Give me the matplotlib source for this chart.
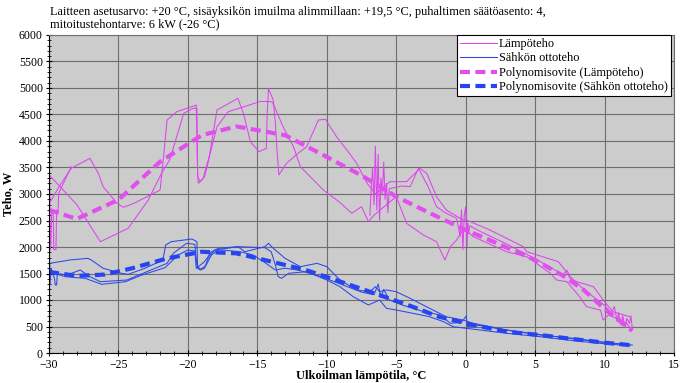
import matplotlib
matplotlib.use("Agg")
import matplotlib.pyplot as plt
from matplotlib.ticker import MultipleLocator

plt.rcParams['font.family'] = ['Liberation Serif', 'DejaVu Serif']

# ---------------- data ----------------
title_text = ("Laitteen asetusarvo: +20 °C, sisäyksikön imuilma alimmillaan: +19,5 °C, "
              "puhaltimen säätöasento: 4,\nmitoitustehontarve: 6 kW (-26 °C)")

heat1_x = [-29.9, -29.2, -28.4, -27.05, -26.45, -26.1, -25.1, -24.65, -23.9, -22.7, -22.0, -21.75, -21.5,
           -20.8, -19.7, -19.4, -19.3, -19.25, -18.8, -18.5, -17.9, -16.4, -16.0, -15.5, -14.9, -14.35,
           -14.3, -14.2, -13.85, -13.7, -13.6, -13.45, -12.9, -12.05, -11.45, -10.6, -10.1, -9.3, -8.55,
           -7.85, -7.1, -6.5, -5.8, -5.45, -4.25, -3.3, -2.8, -2.1, -1.4, -0.2, 0.05, 1.75, 4.15, 4.4,
           6.67, 7.15, 7.6, 9.2, 10.0, 10.6, 11.8]
heat1_y = [2855, 3170, 3485, 3673, 3390, 3138, 2824, 2748, 2824, 2980, 3075, 3704, 4396,
           4553, 4648, 4679, 3400, 3202, 3327, 3642, 4585, 4805, 4520, 3990, 3800, 3860,
           4460, 4990, 4770, 4330, 3890, 3360, 3579, 3770, 3893, 4396, 4409, 4081, 3830,
           3579, 3202, 3000, 3150, 3233, 3233, 3485, 3390, 2950, 2698, 2510, 2510, 2320, 2006, 1911,
           1723, 1566, 1377, 1251, 968, 779, 685]

heat2_x = [-29.95, -29.6, -28.0, -26.3, -24.3, -22.85, -21.9, -21.3, -20.3, -19.6, -19.35, -19.3, -19.1,
           -18.9, -18.4, -17.9, -17.1, -14.8, -14.1, -13.9, -13.15, -12.4, -11.9, -10.25, -9.05, -8.2,
           -7.5, -7.0, -6.6, -5.0, -4.25, -3.05, -2.1, -1.5, -1.1, -0.65, -0.2, 0.1, 0.55, 2.95, 4.4,
           6.1, 6.55, 7.3, 8.2, 8.7, 9.7, 9.9, 10.3, 11.6, 11.95]
heat2_y = [3350, 3250, 2800, 2100, 2353, 2887, 3390, 3650, 4523, 4617, 4617, 3327, 3233,
           3296, 3767, 4270, 4553, 4745, 4745, 4730, 4270, 3893, 3516, 3075, 2840, 2636,
           2761, 2478, 2600, 2950, 2447, 2226, 2100, 1755, 2006, 2132, 2320, 2300, 2195, 1911, 1817,
           1504, 1377, 1345, 1063, 874, 811, 623, 720, 560, 434]

heat3_x = [-29.95, -29.93, -29.88, -29.8, -29.7, -29.65, -29.5, -29.45, -29.35, -29.3, -28.4]
heat3_y = [3300, 1950, 2000, 2700, 2650, 1950, 1950, 2700, 2650, 3013, 3515]

heat4_x = [-6.9, -6.8, -6.7, -6.6, -6.5, -6.4, -6.3, -6.2, -6.1, -6.0, -5.9, -5.8, -5.7, -5.6, -5.5,
           -4.6, -4.0, -3.4, -2.7, -2.1, -1.4, -0.65, -0.4, -0.3, -0.2, -0.1, 0.0, 0.1, 0.15, 0.2, 0.3,
           1.0, 3.0, 5.0, 7.0, 7.3, 7.5, 8.5, 10.0, 10.5, 10.7, 10.9, 11.0, 11.2, 11.3, 11.5, 11.6,
           11.8, 11.9, 12.0]
heat4_y = [2600, 3100, 3500, 2800, 3900, 2700, 3750, 2500, 3300, 3000, 3600, 2900, 3200, 2650, 3100,
           3150, 3138, 3485, 3138, 2761, 2636, 2541, 2200, 2700, 1950, 2600, 2760, 2000, 2450, 2250, 2400,
           2300, 2050, 1780, 1480, 1560, 1450, 1200, 900, 750, 880, 600, 760, 520, 700, 480, 650,
           560, 700, 450]

elec1_x = [-29.93, -28.5, -27.2, -26.95, -26.1, -24.8, -24.3, -23.1, -21.8, -21.6, -21.2, -19.7, -19.35,
           -19.3, -19.1, -18.8, -18.5, -18.05, -16.4, -15.9, -14.45, -14.2, -13.85, -13.0, -11.9, -10.7,
           -10.0, -9.05, -7.85, -6.9, -6.5, -6.2, -5.7, -5.0, -4.0, -2.6, -1.4, -0.2, 0.55, 2.95, 5.35,
           7.75, 10.15, 11.8]
elec1_y = [1692, 1755, 1786, 1755, 1598, 1504, 1484, 1598, 1755, 2038, 2100, 2151, 2100,
           1598, 1566, 1598, 1817, 1943, 2006, 1911, 2006, 2070, 1975, 1786, 1629, 1692,
           1629, 1377, 1189, 1157, 1251, 1157, 1189, 1157, 1032, 843, 685, 623, 560, 434, 340,
           277, 195, 150]

elec2_x = [-29.93, -28.85, -27.4, -26.2, -24.5, -23.3, -21.65, -20.7, -20.0, -19.5, -19.4, -18.8, -18.3,
           -17.8, -16.4, -14.45, -14.0, -13.7, -13.5, -13.25, -12.75, -11.45, -10.0, -9.05, -8.1, -7.0,
           -6.2, -5.7, -5.0, -3.8, -2.6, -1.6, -0.9, 0.05, 2.95, 5.35, 7.75, 10.15, 11.8]
elec2_y = [1534, 1440, 1409, 1296, 1345, 1472, 1610, 1849, 1943, 1925, 1598, 1723, 1911,
           1975, 2006, 1987, 1911, 1660, 1440, 1409, 1504, 1534, 1377, 1251, 1063, 906,
           1000, 843, 811, 749, 685, 591, 496, 466, 372, 308, 233, 170, 138]

elec3_x = [-29.95, -29.93, -29.85, -29.6, -29.55, -29.45, -29.4, -28.7, -27.75, -27.05, -26.3, -24.4,
           -22.95, -21.5, -21.05, -20.1, -19.5, -19.35, -19.1, -18.7, -18.3, -17.8, -16.25, -15.3, -14.55,
           -13.7, -13.0, -12.0, -10.5, -9.0, -7.5, -6.6, -6.3, -6.1, -5.9, -5.5, -4.5, -3.0, -1.85, -1.1,
           -0.3, 0.05, 0.1, 1.0, 3.0, 5.0, 8.0, 10.0, 12.0]
elec3_y = [1700, 1283, 1600, 1400, 1283, 1283, 1500, 1472, 1566, 1440, 1345, 1377,
           1534, 1692, 1881, 2070, 2050, 1650, 1580, 1650, 1850, 1950, 1911, 1849, 1723,
           1566, 1600, 1560, 1450, 1300, 1150, 1100, 1300, 1050, 1200, 1000, 900, 780, 717, 560,
           580, 700, 500, 520, 430, 360, 260, 200, 150]

fit_heat_x = [-30, -28, -25, -22, -19, -16.5, -13, -10, -7.5, -5, -2.5, 0, 2, 5, 7, 8.5, 10, 12]
fit_heat_y = [2700, 2530, 2890, 3610, 4110, 4275, 4110, 3700, 3350, 2950, 2630, 2320, 2100, 1755,
              1460, 1190, 830, 420]

fit_elec_x = [-30, -28, -26, -24, -21.5, -19, -16.5, -14, -11.5, -9, -6.5, -4, -2, 0.5, 3, 5.5, 8, 10, 12]
fit_elec_y = [1530, 1455, 1480, 1600, 1785, 1910, 1880, 1725, 1565, 1345, 1120, 890, 690, 530, 400,
              335, 255, 195, 145]

labels = ["Lämpöteho", "Sähkön ottoteho", "Polynomisovite (Lämpöteho)",
          "Polynomisovite (Sähkön ottoteho)"]
x_label = "Ulkoilman lämpötila, °C"
y_label = "Teho, W"

# ---------------- drawing ----------------
heat_col = '#DD44EE'
elec_col = '#2B48E6'
fit_heat_col = '#E24FEF'
fit_elec_col = '#2645F0'

fig = plt.figure(figsize=(6.89, 3.83), dpi=100)
ax = fig.add_axes([49/689, 30/383, 625/689, 318/383])
ax.set_facecolor('#CCCCCC')

raw_lw = 0.75
l1, = ax.plot(heat1_x, heat1_y, color=heat_col, lw=raw_lw)
ax.plot(heat2_x, heat2_y, color=heat_col, lw=raw_lw)
ax.plot(heat3_x, heat3_y, color=heat_col, lw=raw_lw)
ax.plot(heat4_x, heat4_y, color=heat_col, lw=raw_lw)
l2, = ax.plot(elec1_x, elec1_y, color=elec_col, lw=raw_lw)
ax.plot(elec2_x, elec2_y, color=elec_col, lw=raw_lw)
ax.plot(elec3_x, elec3_y, color=elec_col, lw=raw_lw)
l3, = ax.plot(fit_heat_x, fit_heat_y, color=fit_heat_col, lw=3, dashes=(2.4, 1.3))
l4, = ax.plot(fit_elec_x, fit_elec_y, color=fit_elec_col, lw=3, dashes=(2.4, 1.3))

ax.set_xlim(-30, 15)
ax.set_ylim(0, 6000)
ax.xaxis.set_major_locator(MultipleLocator(5))
ax.xaxis.set_minor_locator(MultipleLocator(1))
ax.yaxis.set_major_locator(MultipleLocator(500))
ax.yaxis.set_minor_locator(MultipleLocator(100))
ax.grid(True, which='major', color='#6E6E6E', lw=0.8)
ax.set_axisbelow(True)
ax.tick_params(which='major', direction='inout', length=5, width=0.8, labelsize=8.5, pad=2)
ax.tick_params(which='minor', direction='inout', length=3, width=0.6)
for s in ['top', 'right']:
    ax.spines[s].set_color('#6E6E6E')
    ax.spines[s].set_linewidth(0.8)
for s in ['left', 'bottom']:
    ax.spines[s].set_color('black')
    ax.spines[s].set_linewidth(0.8)

leg = ax.legend([l1, l2, l3, l4], labels, loc='upper right', bbox_to_anchor=(0.995, 1.0),
                fontsize=8.8, frameon=True, fancybox=False, framealpha=1, edgecolor='black',
                handlelength=3.0, borderpad=0.25, labelspacing=0.2, handletextpad=0.2,
                borderaxespad=0)
leg.get_frame().set_linewidth(0.8)

fig.text(50/689, 1 - 6/383, title_text, ha='left', va='top', fontsize=8.8, linespacing=1.05)
fig.text(8/689, (383 - 194)/383, y_label, rotation=90, ha='center', va='center',
         fontsize=9, fontweight='bold')
fig.text(361/689, 1/383, x_label, ha='center', va='bottom', fontsize=9, fontweight='bold')

fig.savefig('out.png', dpi=100)
